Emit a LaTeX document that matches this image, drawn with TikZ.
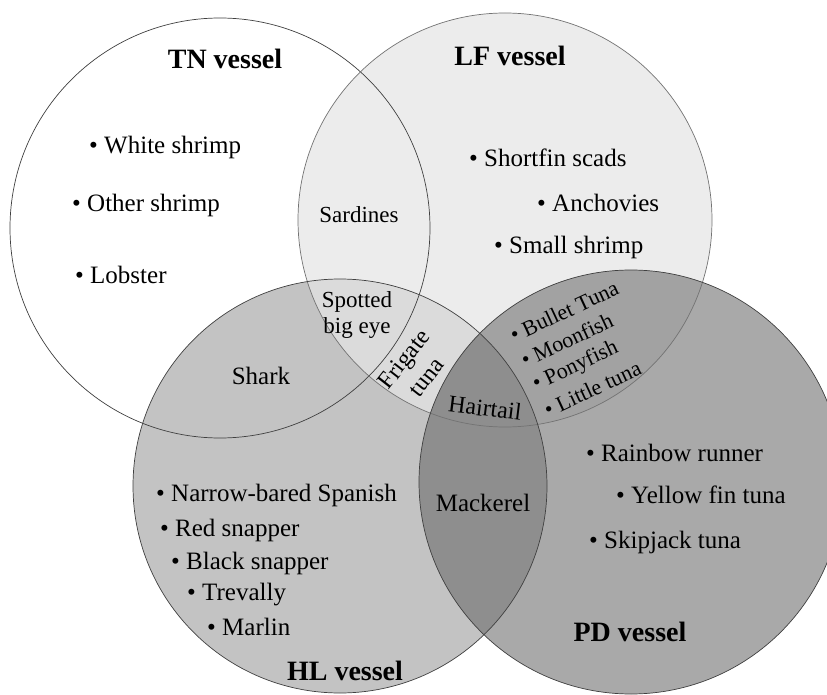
\documentclass[tikz,border=0pt]{standalone}
\usepackage{fontspec}
\setmainfont{Liberation Serif}

\definecolor{lfgray}{RGB}{236,236,236}
\definecolor{hlgray}{RGB}{195,195,195}
\definecolor{pdgray}{RGB}{169,169,169}
\definecolor{lfhlgray}{RGB}{219,219,219}
\definecolor{lfpdgray}{RGB}{162,162,162}
\definecolor{hlpdgray}{RGB}{142,142,142}

\begin{document}
\begin{tikzpicture}[x=1pt, y=-1pt, line cap=round, line join=round,
  ring/.style={draw=black!75, line width=0.7pt},
  title/.style={font=\fontsize{28}{30}\selectfont\bfseries},
  item/.style={anchor=west, inner sep=0pt, font=\fontsize{25}{27}\selectfont},
  shared/.style={inner sep=0pt, align=center, font=\fontsize{23}{26}\selectfont},
  tilted/.style={anchor=west, inner sep=0pt, rotate=25, font=\fontsize{22}{24}\selectfont}]

\clip (0,0) rectangle (827,695);
\fill[white] (0,0) rectangle (827,695);

% circle fills
\fill[lfgray] (505,220) circle[radius=207pt];
\fill[hlgray] (340,486) circle[radius=207pt];
\fill[pdgray] (631,482) circle[radius=212pt];
\begin{scope}
  \clip (505,220) circle[radius=207pt];
  \fill[lfhlgray] (340,486) circle[radius=207pt];
  \fill[lfpdgray] (631,482) circle[radius=212pt];
\end{scope}
\begin{scope}
  \clip (340,486) circle[radius=207pt];
  \fill[hlpdgray] (631,482) circle[radius=212pt];
\end{scope}

% outlines
\draw[ring] (220,228) circle[radius=210pt];
\draw[ring, draw=black!55] (505,220) circle[radius=207pt];
\draw[ring] (340,486) circle[radius=207pt];
\draw[ring] (631,482) circle[radius=212pt];

% vessel names
\node[title] (tn) at (225,59) {TN vessel};
\node[title] (lf) at (510,56) {LF vessel};
\node[title] (hl) at (345,671) {HL vessel};
\node[title] (pd) at (630,632) {PD vessel};

% TN only
\node[item] (whiteshrimp) at (89,147) {\textbullet\ White shrimp};
\node[item] (othershrimp) at (72,205) {\textbullet\ Other shrimp};
\node[item] (lobster) at (75,275) {\textbullet\ Lobster};

% LF only
\node[item] (shortfin) at (469,158) {\textbullet\ Shortfin scads};
\node[item] (anchovies) at (537,203) {\textbullet\ Anchovies};
\node[item] (smallshrimp) at (494,247) {\textbullet\ Small shrimp};

% HL only
\node[item] (spanish) at (156,495) {\textbullet\ Narrow-bared Spanish};
\node[item] (redsnapper) at (160,530) {\textbullet\ Red snapper};
\node[item] (blacksnapper) at (171,563) {\textbullet\ Black snapper};
\node[item] (trevally) at (187,595) {\textbullet\ Trevally};
\node[item] (marlin) at (207,627) {\textbullet\ Marlin};

% PD only
\node[item] (rainbow) at (586,453) {\textbullet\ Rainbow runner};
\node[item] (yellowfin) at (616,495) {\textbullet\ Yellow fin tuna};
\node[item] (skipjack) at (589,542) {\textbullet\ Skipjack tuna};

% overlaps
\node[shared] (sardines) at (359,215) {Sardines};
\node[shared] (bigeye) at (357,315) {Spotted\\big eye};
\node[shared, font=\fontsize{25}{27}\selectfont] (shark) at (261,376) {Shark};
\node[shared, rotate=52, font=\fontsize{24}{29}\selectfont] (frigate) at (415,368) {Frigate\\tuna};
\node[shared, rotate=-7, font=\fontsize{24}{26}\selectfont] (hairtail) at (485,408) {Hairtail};
\node[shared, font=\fontsize{25}{27}\selectfont] (mackerel) at (483,503) {Mackerel};

% LF and PD
\node[tilted] (bullettuna) at (511,336) {\textbullet\ Bullet Tuna};
\node[tilted] (moonfish) at (522,361) {\textbullet\ Moonfish};
\node[tilted] (ponyfish) at (534,386) {\textbullet\ Ponyfish};
\node[tilted] (littletuna) at (545,411) {\textbullet\ Little tuna};

\end{tikzpicture}
\end{document}
